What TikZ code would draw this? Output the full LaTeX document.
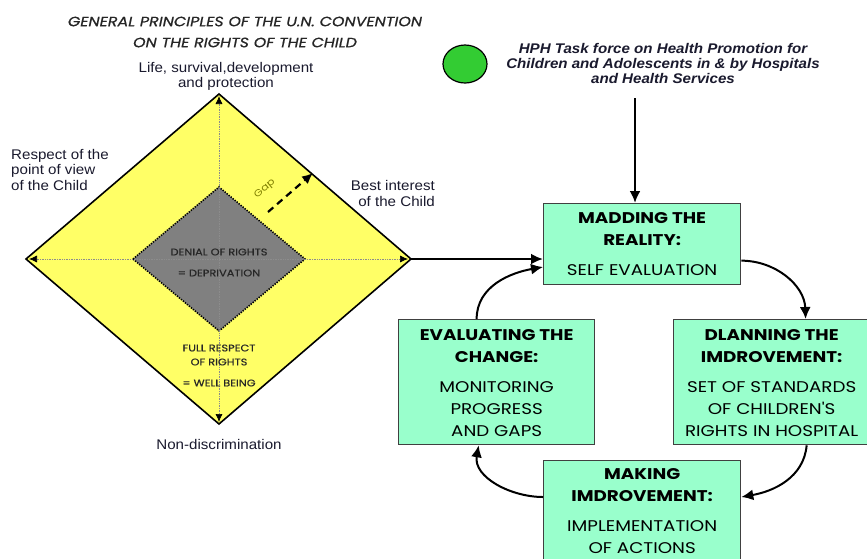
\documentclass[tikz,border=0pt]{standalone}
\usepackage{fontspec}
\setmainfont[FakeStretch=1.08]{Liberation Sans}
\newfontfamily\gothic[FakeStretch=1.18]{Poppins}
\newfontfamily\gothicmid[FakeStretch=1.18,FakeBold=0.6]{Poppins}
\usetikzlibrary{arrows.meta,shapes.geometric}
\definecolor{diayellow}{HTML}{FFFF66}
\definecolor{boxgreen}{HTML}{99FFCC}
\definecolor{dotgreen}{HTML}{33CC33}
\definecolor{gapcol}{HTML}{808000}
\definecolor{inkcol}{HTML}{1A1A2E}
\begin{document}
\begin{tikzpicture}[x=1pt,y=1pt,
  stepbox/.style={draw=black!75, line width=1.3pt, fill=boxgreen, inner sep=0pt, anchor=north west},
  boxtext/.style={inner sep=0pt, anchor=north, align=center, text=black,
     font=\gothic\fontsize{15.5}{22}\selectfont},
  lbl/.style={inner sep=0pt, text=inkcol, font=\fontsize{14}{15.5}\selectfont},
  inner/.style={inner sep=0pt, text=black!85, font=\gothicmid\fontsize{9.6}{10}\selectfont},
  flow/.style={line width=2.8pt, -{Latex[length=12pt,width=11pt]}},
  cyc/.style={line width=2pt, -{Latex[length=12pt,width=11pt]}},
  axis/.style={densely dotted, black!45, line width=0.7pt, {Latex[length=8pt,width=7pt,black]}-{Latex[length=8pt,width=7pt,black]}}
]
\clip (0,0) rectangle (867,-558);
\fill[white] (0,0) rectangle (867,-558);

% outer diamond
\coordinate (T) at (219,-94);
\coordinate (B) at (219,-424);
\coordinate (L) at (26,-259);
\coordinate (R) at (411,-259);
\draw[line width=1.6pt, fill=diayellow, line join=miter] (L) -- (T) -- (R) -- (B) -- cycle;
% inner diamond
\coordinate (iT) at (219,-187);
\coordinate (iB) at (219,-331);
\coordinate (iL) at (133,-259);
\coordinate (iR) at (305,-259);
\fill[black!50] (iL) -- (iT) -- (iR) -- (iB) -- cycle;
\draw[line width=1.6pt, dash pattern=on 1.3pt off 1.3pt] (iL) -- (iT) -- (iR) -- (iB) -- cycle;
% axes
\draw[axis] ([yshift=-2pt]T) -- ([yshift=2pt]B);
\draw[axis] ([xshift=3pt]L) -- ([xshift=-3pt]R);

% inner texts
\node[inner] (den) at (219,-252) {DENIAL OF RIGHTS};
\node[inner] (dep) at (219,-273) {= DEPRIVATION};
\node[inner] (full) at (219,-348) {FULL RESPECT};
\node[inner] (ofr) at (219,-362) {OF RIGHTS};
\node[inner] (well) at (219,-383) {= WELL BEING};

% gap arrow
\coordinate (gS) at (268,-212);
\coordinate (gE) at (313,-173);
\draw[line width=2.2pt, dash pattern=on 7pt off 5pt, -{Latex[length=11pt,width=10pt]}] (gS) -- (gE);
\node[inner sep=0pt, rotate=40, text=gapcol, font=\gothic\fontsize{9.5}{9.5}\selectfont] (gap) at (265,-189) {Gap};

% title
\node[inner sep=0pt, align=center, text=black!85, font=\gothicmid\itshape\fontsize{13.5}{21}\selectfont] (title) at (245,-32) {GENERAL PRINCIPLES OF THE U.N. CONVENTION\\ON THE RIGHTS OF THE CHILD};

% labels around diamond
\node[lbl, align=center] (life) at (226,-76.5) {Life, survival,development\\and protection};
\node[lbl, align=left, anchor=north west] (resp) at (11,-149) {Respect of the\\point of view\\of the Child};
\node[lbl, align=right, anchor=north east] (best) at (435,-180.5) {Best interest\\of the Child};
\node[lbl] (nond) at (219,-444) {Non-discrimination};

% HPH
\node[draw=black, line width=1.2pt, fill=dotgreen, ellipse, minimum width=44pt, minimum height=38pt, inner sep=0pt] (dot) at (465,-64) {};
\node[inner sep=0pt, align=center, text=inkcol, font=\bfseries\itshape\fontsize{14}{15}\selectfont] (hph) at (663,-63) {HPH Task force on Health Promotion for\\Children and Adolescents in \& by Hospitals\\and Health Services};

% boxes
\node[stepbox, minimum width=197pt, minimum height=81pt] (map) at (543,-203) {};
\node[stepbox, minimum width=196pt, minimum height=125pt] (eval) at (398,-319) {};
\node[stepbox, minimum width=196pt, minimum height=125pt] (plan) at (673,-319) {};
\node[stepbox, minimum width=197pt, minimum height=120pt] (make) at (543,-460) {};

\node[boxtext] (mapt) at ([yshift=-9.5pt]map.north) {\bfseries MADDING THE\\\bfseries REALITY:\\[8pt]SELF EVALUATION};
\node[boxtext] (evalt) at ([yshift=-10.5pt]eval.north) {\bfseries EVALUATING THE\\\bfseries CHANGE:\\[8pt]MONITORING\\PROGRESS\\AND GAPS};
\node[boxtext] (plant) at ([yshift=-10.5pt]plan.north) {\bfseries DLANNING THE\\\bfseries IMDROVEMENT:\\[8pt]SET OF STANDARDS\\OF CHILDREN'S\\RIGHTS IN HOSPITAL};
\node[boxtext] (maket) at ([yshift=-8.5pt]make.north) {\bfseries MAKING\\\bfseries IMDROVEMENT:\\[8pt]IMPLEMENTATION\\OF ACTIONS};

% connectors
\coordinate (hphfoot) at (635,-98);
\draw[flow] (hphfoot) -- (hphfoot |- map.north);
\draw[flow] (R) -- (R -| map.west);
\draw[cyc] ([yshift=-16.5pt]map.east) to[out=0,in=92] ([xshift=34pt]plan.north);
\draw[cyc] ([xshift=35pt]plan.south) to[out=-95,in=10] ([yshift=-37pt]make.north east);
\draw[cyc] ([yshift=-37pt]make.north west) to[out=180,in=-100] ([xshift=-18pt]eval.south);
\draw[cyc] ([xshift=-20pt]eval.north) to[out=90,in=190] ([yshift=-64pt]map.north west);
\end{tikzpicture}
\end{document}
